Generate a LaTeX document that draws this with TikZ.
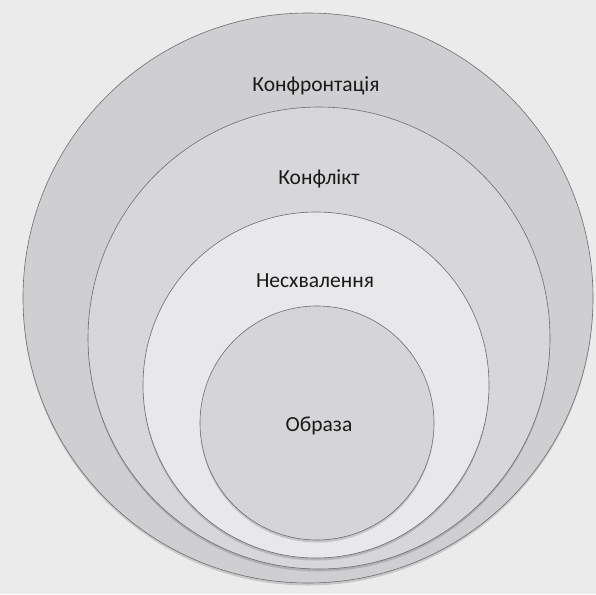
\documentclass[tikz,border=0pt]{standalone}
\usepackage{fontspec}
\setmainfont{Carlito}
\usetikzlibrary{shadows}
\definecolor{paper}{HTML}{EBEBEB}
\definecolor{lineGray}{HTML}{6E6E72}
\definecolor{ringA}{HTML}{CFCFD2}
\definecolor{ringB}{HTML}{D7D7DA}
\definecolor{ringC}{HTML}{E8E8EA}
\definecolor{ringD}{HTML}{D5D5D8}
\definecolor{textDark}{HTML}{1A1A1A}
\begin{document}
\begin{tikzpicture}[x=1pt,y=-1pt,
  ring/.style={draw=lineGray, line width=0.6pt, circle, inner sep=0pt, minimum size=#1,
    drop shadow={shadow xshift=0pt, shadow yshift=-2.5pt, fill=black, opacity=0.15}},
  lbl/.style={font=\fontsize{21.5}{24}\selectfont, text=textDark, inner sep=0pt}]
  \useasboundingbox (0,0) rectangle (596,594);
  \fill[paper] (0,0) rectangle (596,594);
  \node[ring=570pt, fill=ringA] (confrontation) at (308,298) {};
  \node[ring=462pt, fill=ringB] (conflict) at (319,338) {};
  \node[ring=346pt, fill=ringC] (disapproval) at (316,385) {};
  \node[ring=234pt, fill=ringD] (offense) at (317,423) {};
  \node[lbl] (t1) at (316,86) {Конфронтація};
  \node[lbl] (t2) at (319,179) {Конфлікт};
  \node[lbl] (t3) at (315,281) {Несхвалення};
  \node[lbl] (t4) at (319,426) {Образа};
\end{tikzpicture}
\end{document}
